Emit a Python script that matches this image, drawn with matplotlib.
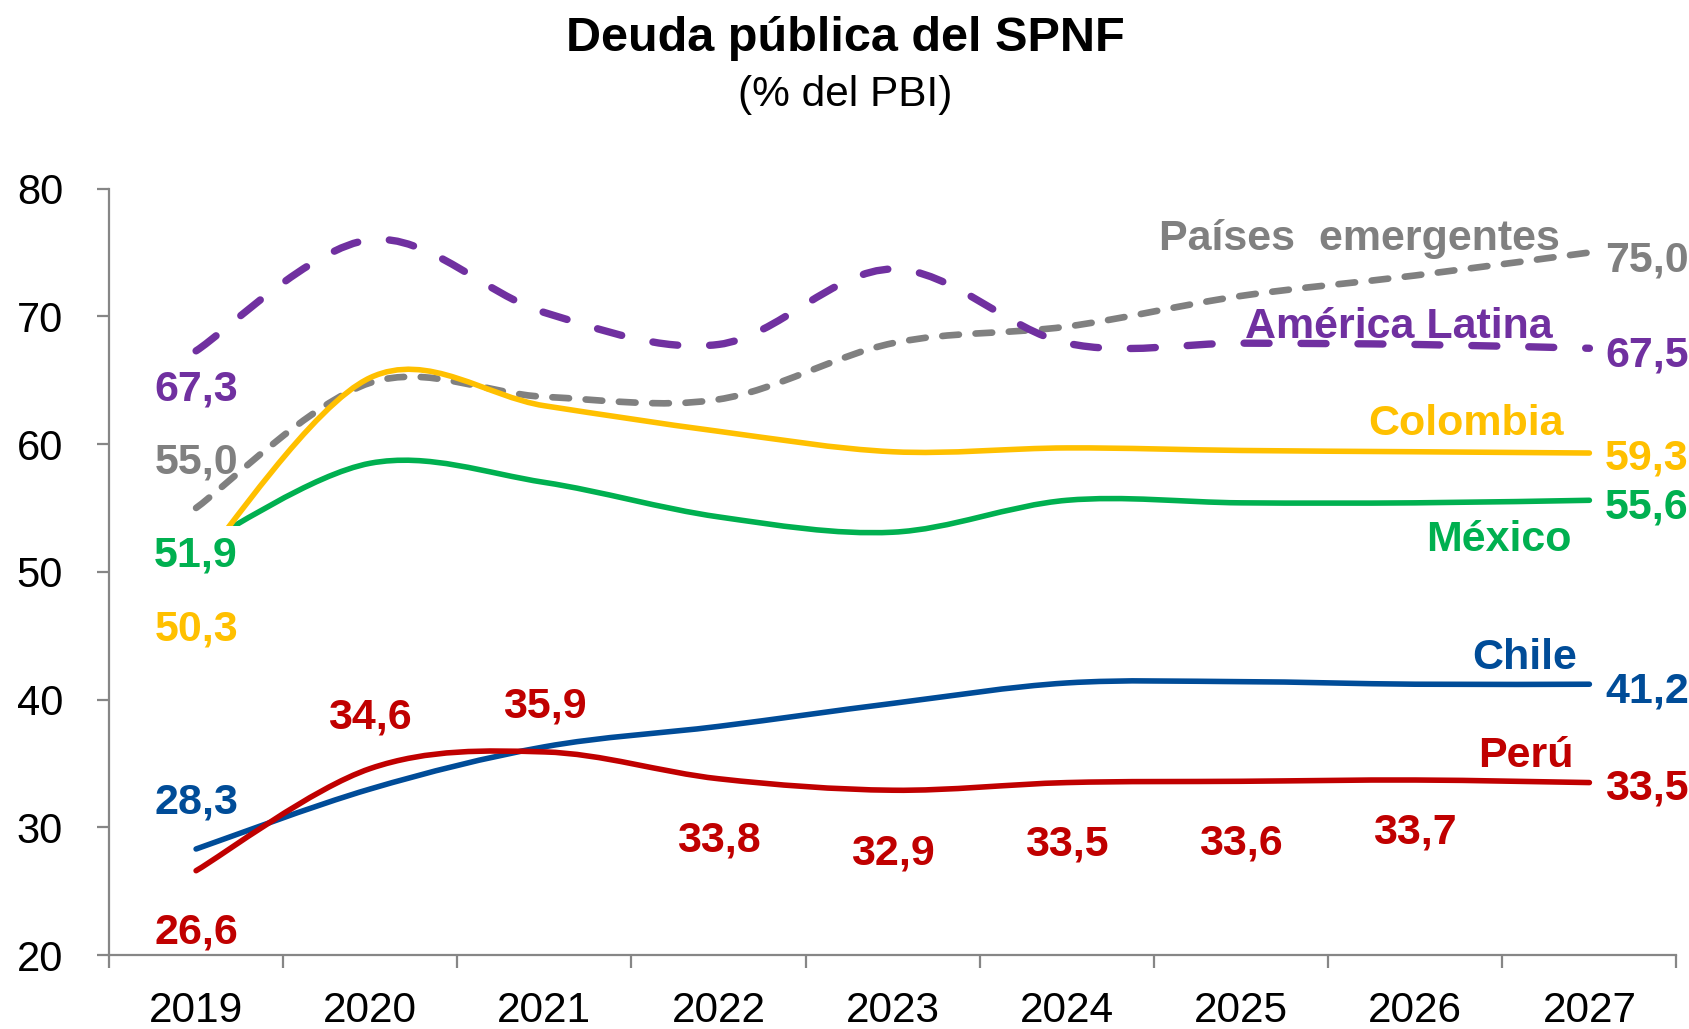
import numpy as np
import matplotlib
matplotlib.use("Agg")
import matplotlib.pyplot as plt
from matplotlib.path import Path
from matplotlib.patches import PathPatch

plt.rcParams['font.family'] = ['Liberation Sans', 'DejaVu Sans']
plt.rcParams['lines.scale_dashes'] = False

# ---------------- data ----------------
years = ["2019", "2020", "2021", "2022", "2023", "2024", "2025", "2026", "2027"]
emergentes = [55.0, 64.8, 63.7, 63.5, 67.9, 69.2, 71.6, 73.2, 75.0]
america_latina = [67.3, 76.0, 70.3, 67.8, 73.7, 67.9, 67.9, 67.8, 67.5]
colombia = [50.3, 65.2, 63.0, 61.0, 59.4, 59.7, 59.5, 59.4, 59.3]
mexico = [51.9, 58.5, 57.0, 54.3, 53.1, 55.6, 55.4, 55.4, 55.6]
chile = [28.3, 33.0, 36.3, 37.9, 39.7, 41.3, 41.4, 41.2, 41.2]
peru = [26.6, 34.6, 35.9, 33.8, 32.9, 33.5, 33.6, 33.7, 33.5]
yticks = [20, 30, 40, 50, 60, 70, 80]

C_GREY = "#808080"
C_PURPLE = "#7030A0"
C_YELLOW = "#FFC000"
C_GREEN = "#00B050"
C_BLUE = "#004C98"
C_RED = "#C00000"

fig = plt.figure(figsize=(16.9, 10.29), dpi=100)
ax = fig.add_axes([0.0645, 0.0719, 0.9275, 0.7448])

x = np.arange(len(years))


def smooth_path(xs, ys):
    pts = np.column_stack([xs, ys]).astype(float)
    n = len(pts)
    verts = [pts[0]]
    codes = [Path.MOVETO]
    for i in range(n - 1):
        p0 = pts[i - 1] if i > 0 else pts[i]
        p1 = pts[i]
        p2 = pts[i + 1]
        p3 = pts[i + 2] if i + 2 < n else pts[i + 1]
        c1 = p1 + (p2 - p0) / 6.0
        c2 = p2 - (p3 - p1) / 6.0
        verts += [c1, c2, p2]
        codes += [Path.CURVE4] * 3
    return Path(verts, codes)


def draw(vals, color, lw, ls, z):
    patch = PathPatch(smooth_path(x, vals), fill=False, edgecolor=color,
                      linewidth=lw, linestyle=ls, capstyle='round',
                      joinstyle='round', zorder=z, transform=ax.transData)
    ax.add_patch(patch)


draw(emergentes, C_GREY, 4.8, (0, (12, 12)), 2)
draw(america_latina, C_PURPLE, 5.3, (0, (18, 23)), 3)
draw(mexico, C_GREEN, 4.0, '-', 4)
draw(colombia, C_YELLOW, 4.0, '-', 5)
draw(chile, C_BLUE, 4.0, '-', 6)
draw(peru, C_RED, 4.0, '-', 7)

ax.set_xlim(-0.5, 8.5)
ax.set_ylim(20, 80)

# axes styling
for s in ['top', 'right']:
    ax.spines[s].set_visible(False)
for s in ['left', 'bottom']:
    ax.spines[s].set_color("#868686")
    ax.spines[s].set_linewidth(1.6)

ax.set_yticks(yticks)
ax.set_yticklabels([str(v) for v in yticks])
ax.set_xticks(x)
ax.set_xticklabels(years)
ax.set_xticks(np.arange(-0.5, 8.6, 1.0), minor=True)
ax.tick_params(axis='x', which='major', length=0, pad=26, labelsize=30.5)
ax.tick_params(axis='x', which='minor', length=9, width=1.6, color="#868686",
               direction='out')
ax.tick_params(axis='y', which='major', length=9, width=1.6, color="#868686",
               direction='out', pad=24, labelsize=30)

# ---------------- labels ----------------
FS = 31


def lab(xv, yv, s, color, ha='center', box=False):
    kw = {}
    if box:
        kw['bbox'] = dict(boxstyle='square,pad=0.22', fc='white', ec='none')
    ax.text(xv, yv, s, color=color, fontsize=FS, fontweight='bold',
            ha=ha, va='baseline', zorder=10, **kw)


def fmt(v):
    return f"{v:.1f}".replace('.', ',')


# 2019 labels (left)
lab(0, 63.4, fmt(america_latina[0]), C_PURPLE)
lab(0, 57.7, fmt(emergentes[0]), C_GREY)
lab(0, 50.4, fmt(mexico[0]), C_GREEN, box=True)
lab(0, 44.6, fmt(colombia[0]), C_YELLOW)
lab(0, 31.1, fmt(chile[0]), C_BLUE)
lab(0, 20.9, fmt(peru[0]), C_RED)

# Perú intermediate labels
peru_label_y = [None, 37.7, 38.6, 28.1, 27.1, 27.8, 27.9, 28.7]
for i in range(1, 8):
    lab(i, peru_label_y[i], fmt(peru[i]), C_RED)

# 2027 labels (right)
xr = 8.09
lab(xr, 73.5, fmt(emergentes[-1]), C_GREY, ha='left')
lab(xr, 66.1, fmt(america_latina[-1]), C_PURPLE, ha='left')
lab(xr, 58.0, fmt(colombia[-1]), C_YELLOW, ha='left')
lab(xr, 54.2, fmt(mexico[-1]), C_GREEN, ha='left')
lab(xr, 39.8, fmt(chile[-1]), C_BLUE, ha='left')
lab(xr, 32.2, fmt(peru[-1]), C_RED, ha='left')

# series names
lab(7.83, 75.2, "Países  emergentes", C_GREY, ha='right')
lab(7.79, 68.3, "América Latina", C_PURPLE, ha='right')
lab(7.85, 60.7, "Colombia", C_YELLOW, ha='right')
lab(7.90, 51.6, "México", C_GREEN, ha='right')
lab(7.93, 42.4, "Chile", C_BLUE, ha='right')
lab(7.91, 34.7, "Perú", C_RED, ha='right')

# titles
fig.text(0.5, 0.963, "Deuda pública del SPNF", ha='center', va='center',
         fontsize=35, fontweight='bold', color='black')
fig.text(0.5, 0.908, "(% del PBI)", ha='center', va='center',
         fontsize=30.5, color='black')

fig.savefig("out.png", dpi=100, facecolor='white')
